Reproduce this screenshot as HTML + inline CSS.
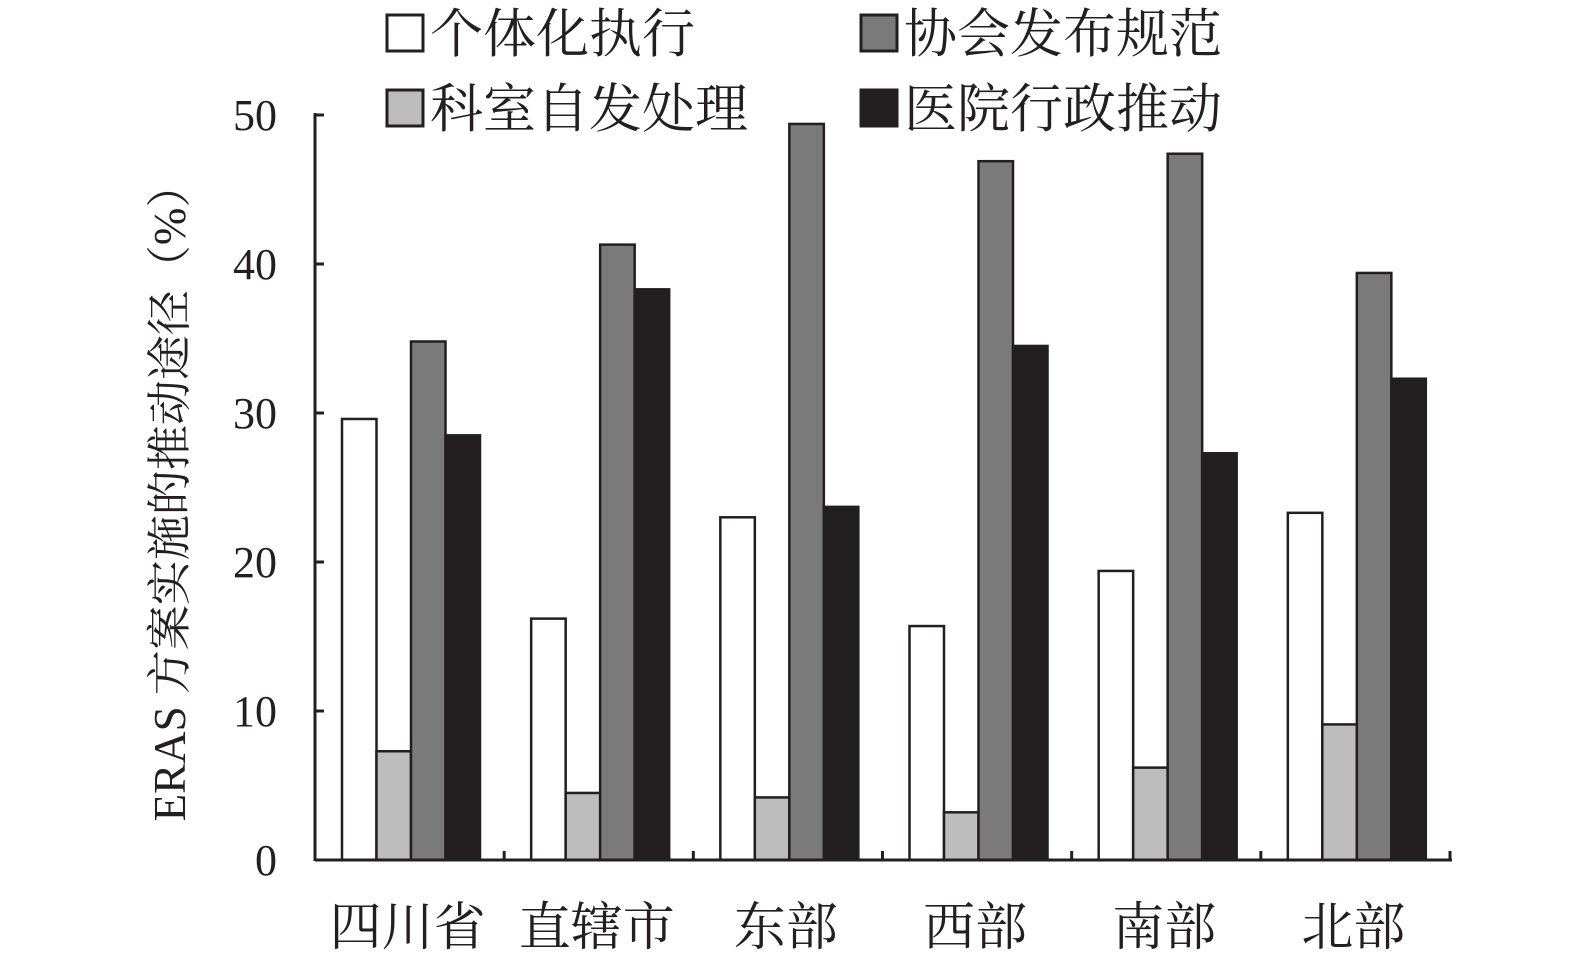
<!DOCTYPE html>
<html><head><meta charset="utf-8"><style>
body{margin:0;background:#fff}
svg text{font-family:"Liberation Serif","Noto Serif CJK SC","Noto Sans CJK SC",serif;fill:#231f20}
</style></head><body>
<svg width="1575" height="965" viewBox="0 0 1575 965" id="chart">
<g id="legend">
<rect x="387" y="15" width="36" height="36" fill="#fff" stroke="#231f20" stroke-width="3"/>
<text x="430" y="52" font-size="53">个体化执行</text>
<rect x="861" y="15" width="36" height="36" fill="#7a7a7a" stroke="#231f20" stroke-width="3"/>
<text x="904" y="52" font-size="53">协会发布规范</text>
<rect x="387" y="90" width="36" height="36" fill="#bdbdbd" stroke="#231f20" stroke-width="3"/>
<text x="430" y="127" font-size="53">科室自发处理</text>
<rect x="861" y="90" width="36" height="36" fill="#231f20" stroke="#231f20" stroke-width="3"/>
<text x="904" y="127" font-size="53">医院行政推动</text>
</g>
<text transform="translate(185,492) rotate(-90)" text-anchor="middle" font-size="45">ERAS 方案实施的推动途径（%）</text>
<g id="bars"></g><g id="axes"></g>
</svg>
<script>
const categories=["四川省","直辖市","东部","西部","南部","北部"];
const individual=[29.6,16.2,23.0,15.7,19.4,23.3];
const department=[7.3,4.5,4.2,3.2,6.2,9.1];
const association=[34.8,41.3,49.4,46.9,47.4,39.4];
const hospital=[28.5,38.3,23.7,34.5,27.3,32.3];
const yTicks=[0,10,20,30,40,50];
const ns="http://www.w3.org/2000/svg";
const x0=315,x1=1450,yBase=860,yTop=115,yMax=50;
const y=v=>yBase-(v/yMax)*(yBase-yTop);
const gw=(x1-x0)/categories.length;
const series=[[individual,"#fff","individual"],[department,"#bdbdbd","department"],[association,"#7a7a7a","association"],[hospital,"#231f20","hospital"]];
const bars=document.getElementById('bars'),axes=document.getElementById('axes');
function mk(t,a,p){const e=document.createElementNS(ns,t);for(const k in a)e.setAttribute(k,a[k]);p.appendChild(e);return e;}
categories.forEach((c,i)=>{
 series.forEach((s,j)=>{
  const bx=x0+i*gw+27+j*34.5;
  const r=mk('rect',{x:bx,y:y(s[0][i]),width:34.5,height:yBase-y(s[0][i]),fill:s[1],stroke:"#231f20","stroke-width":2.5},bars);
  
  
 });
 const t=mk('text',{x:x0+i*gw+gw/2-2,y:945,"font-size":52,"text-anchor":"middle"},axes);t.textContent=c;
 
 
});
let l=mk('line',{x1:x0,y1:yBase,x2:x1+2,y2:yBase,stroke:"#231f20","stroke-width":3},axes);


l=mk('line',{x1:x0,y1:yTop-2,x2:x0,y2:yBase+1,stroke:"#231f20","stroke-width":3},axes);


for(let i=0;i<=categories.length;i++){const tx=x0+i*gw;const k=mk('line',{x1:tx,y1:yBase,x2:tx,y2:yBase-9,stroke:"#231f20","stroke-width":3},axes);
 
 }
yTicks.forEach(v=>{const k=mk('line',{x1:x0,y1:y(v),x2:x0+9,y2:y(v),stroke:"#231f20","stroke-width":3},axes);
 
 
 const t=mk('text',{x:277,y:y(v)+15,"font-size":44,"text-anchor":"end"},axes);t.textContent=v;
 
 });
</script>
</body></html>
